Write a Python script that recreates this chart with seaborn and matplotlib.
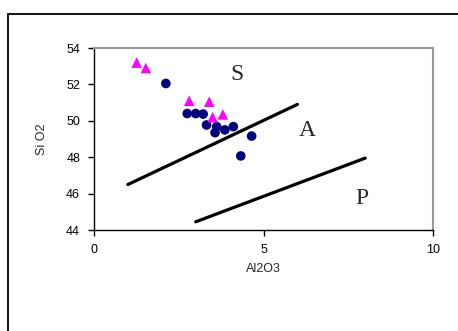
import pandas as pd
import seaborn as sns
import matplotlib.pyplot as plt
from matplotlib.patches import Rectangle

# Al2O3 / SiO2 values
circ_x = [2.12, 2.75, 3.0, 3.22, 3.32, 3.57, 3.62, 3.86, 4.11, 4.65, 4.33]
circ_y = [52.05, 50.4, 50.4, 50.37, 49.77, 49.35, 49.68, 49.5, 49.68, 49.16, 48.07]
tri_x = [1.26, 1.53, 2.81, 3.40, 3.50, 3.80]
tri_y = [53.2, 52.9, 51.1, 51.05, 50.2, 50.35]

# boundary lines
line1_x = [1.0, 6.0]
line1_y = [46.5, 50.9]
line2_x = [3.0, 8.0]
line2_y = [44.45, 47.95]

labels = ["S", "A", "P"]
label_x = [4.21, 6.29, 7.90]
label_y = [52.57, 49.46, 45.74]

sns.set_style("white")
plt.rcParams['font.family'] = ['Liberation Sans', 'DejaVu Sans']

fig = plt.figure(figsize=(4.58, 3.31), dpi=100)
ax = fig.add_axes([94 / 458, 101 / 331, 339 / 458, 182 / 331])

# outer chart border (runs off the image on right/bottom)
fig.patches.append(Rectangle((8 / 458, -0.1), 1.0, (331 - 14) / 331 + 0.1,
                             transform=fig.transFigure, fill=False,
                             edgecolor='black', linewidth=1.3))

circles = pd.DataFrame({'x': circ_x, 'y': circ_y})
tris = pd.DataFrame({'x': tri_x, 'y': tri_y})

sns.lineplot(x=line1_x, y=line1_y, color='black', linewidth=2.3, ax=ax)
sns.lineplot(x=line2_x, y=line2_y, color='black', linewidth=2.3, ax=ax)
sns.scatterplot(data=circles, x='x', y='y', marker='o', color='#000080',
                s=48, edgecolor='none', ax=ax, zorder=3)
sns.scatterplot(data=tris, x='x', y='y', marker='^', color='#ff00ff',
                s=58, edgecolor='none', ax=ax, zorder=4)

for t, tx, ty in zip(labels, label_x, label_y):
    ax.text(tx, ty, t, fontsize=17, family='Liberation Serif',
            ha='center', va='center')

ax.set_xlim(0, 10)
ax.set_ylim(44, 54)
ax.set_xticks([0, 5, 10])
ax.set_yticks([44, 46, 48, 50, 52, 54])
ax.set_xlabel('Al2O3', fontsize=9, labelpad=5)
ax.set_ylabel('Si O2', fontsize=9, labelpad=13)
ax.tick_params(axis='both', direction='out', length=4, width=1,
               labelsize=9, colors='black', pad=6, left=True, bottom=True)

for side in ['top', 'right']:
    ax.spines[side].set_color('#999999')
    ax.spines[side].set_linewidth(1.5)
for side in ['left', 'bottom']:
    ax.spines[side].set_color('black')
    ax.spines[side].set_linewidth(1)

fig.savefig('out.png', dpi=100)
